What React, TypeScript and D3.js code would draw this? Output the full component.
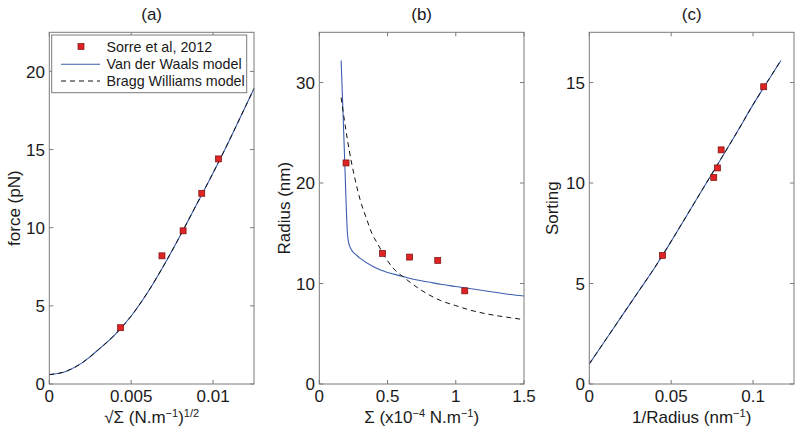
import React from "react";
import * as d3 from "d3";

// ---------- Data ----------
// Panel (a): force vs sqrt(Sigma)
const aPointsX = [0.00435, 0.00688, 0.00817, 0.00931, 0.01033];
const aPointsY = [3.6, 8.2, 9.8, 12.2, 14.4];
const aCurveX = [0, 0.001, 0.002, 0.0025, 0.003, 0.004, 0.005, 0.006, 0.007, 0.008, 0.009, 0.01, 0.011, 0.012, 0.0125];
const aCurveY = [0.6, 0.8, 1.35, 1.75, 2.2, 3.15, 4.35, 5.85, 7.6, 9.5, 11.5, 13.5, 15.6, 17.8, 18.9];

// Panel (b): Radius vs Sigma
const bPointsX = [0.196, 0.463, 0.662, 0.868, 1.066];
const bPointsY = [22.0, 13.0, 12.63, 12.3, 9.27];
const bVdwX = [0.16, 0.17, 0.18, 0.19, 0.198, 0.203, 0.207, 0.213, 0.222, 0.238, 0.27, 0.3, 0.4, 0.5, 0.6, 0.7, 0.8, 0.9, 1.0, 1.1, 1.2, 1.3, 1.4, 1.5];
const bVdwY = [32.2, 28.4, 24.6, 20.7, 17.4, 15.7, 14.85, 14.2, 13.75, 13.3, 12.85, 12.5, 11.65, 11.1, 10.75, 10.4, 10.15, 9.9, 9.7, 9.5, 9.3, 9.1, 8.9, 8.75];
const bBwX = [0.16, 0.19, 0.22, 0.26, 0.3, 0.35, 0.385, 0.43, 0.47, 0.54, 0.63, 0.74, 0.89, 1.0, 1.08, 1.2, 1.3, 1.4, 1.5];
const bBwY = [28.5, 25.7, 23.2, 20.5, 18.3, 16.3, 15.0, 13.9, 12.9, 11.55, 10.5, 9.4, 8.3, 7.8, 7.45, 7.05, 6.8, 6.6, 6.4];

// Panel (c): Sorting vs 1/Radius
const cPointsX = [0.0447, 0.076, 0.0783, 0.0805, 0.1065];
const cPointsY = [6.4, 10.28, 10.75, 11.65, 14.79];
const cCurveX = [0, 0.01, 0.02, 0.03, 0.04, 0.05, 0.06, 0.07, 0.08, 0.09, 0.1, 0.11, 0.117];
const cCurveY = [1.0, 2.2, 3.4, 4.6, 5.8, 7.1, 8.45, 9.8, 11.15, 12.5, 13.9, 15.2, 16.1];

// Ticks
const aXTicks = [0, 0.005, 0.01];
const aXTickLabels = ["0", "0.005", "0.01"];
const aYTicks = [0, 5, 10, 15, 20];
const bXTicks = [0, 0.5, 1, 1.5];
const bXTickLabels = ["0", "0.5", "1", "1.5"];
const bYTicks = [0, 10, 20, 30];
const cXTicks = [0, 0.05, 0.1];
const cXTickLabels = ["0", "0.05", "0.1"];
const cYTicks = [0, 5, 10, 15];

const legendLabels = ["Sorre et al, 2012", "Van der Waals model", "Bragg Williams model"];

// ---------- Styles ----------
const FONT = "'Liberation Sans', Arial, Helvetica, sans-serif";
const BLUE = "#3d5eae";
const RED = "#dd2323";
const AXIS = "#7a7a7a";
const TEXT = "#1a1a1a";
const TOP = 32.3;
const BOTTOM = 384;
const PW = 204.7;
const FS = 17;
const SUP = 11;
const SUPDY = 6;

type Series = { x: number[]; y: number[] };

function zip(s: Series) {
  return s.x.map((x, i) => [x, s.y[i]] as [number, number]);
}

function Panel(props: {
  left: number;
  xDomain: [number, number];
  yDomain: [number, number];
  xTicks: number[];
  xTickLabels: string[];
  yTicks: number[];
  title: string;
  xLabel: React.ReactNode;
  yLabel: string;
  yLabelX: number;
  solid: Series;
  dashed: Series;
  points: Series;
  legend?: boolean;
}) {
  const { left } = props;
  const x = d3.scaleLinear().domain(props.xDomain).range([left, left + PW]);
  const y = d3.scaleLinear().domain(props.yDomain).range([BOTTOM, TOP]);
  const line = d3
    .line<[number, number]>()
    .x((d) => x(d[0]))
    .y((d) => y(d[1]))
    .curve(d3.curveMonotoneX);
  const tl = 4;
  const cx = left + PW / 2;
  const cy = (TOP + BOTTOM) / 2;
  const ms = 6;
  return (
    <g>
      <text x={cx} y={19.5} textAnchor="middle" fontSize={FS} fontFamily={FONT} fill={TEXT}>
        {props.title}
      </text>
      {/* ticks */}
      {props.xTicks.map((t, i) => (
        <g key={"xt" + i}>
          <line x1={x(t)} x2={x(t)} y1={BOTTOM} y2={BOTTOM - tl} stroke={AXIS} />
          <line x1={x(t)} x2={x(t)} y1={TOP} y2={TOP + tl} stroke={AXIS} />
          <text x={x(t)} y={401.5} textAnchor="middle" fontSize={FS} fontFamily={FONT} fill={TEXT}>
            {props.xTickLabels[i]}
          </text>
        </g>
      ))}
      {props.yTicks.map((t, i) => (
        <g key={"yt" + i}>
          <line x1={left} x2={left + tl} y1={y(t)} y2={y(t)} stroke={AXIS} />
          <line x1={left + PW} x2={left + PW - tl} y1={y(t)} y2={y(t)} stroke={AXIS} />
          <text x={left - 4.3} y={y(t) + 6.2} textAnchor="end" fontSize={FS} fontFamily={FONT} fill={TEXT}>
            {String(t)}
          </text>
        </g>
      ))}
      {/* curves */}
      <path d={line(zip(props.solid)) || ""} fill="none" stroke={BLUE} strokeWidth={1.1} />
      <path d={line(zip(props.dashed)) || ""} fill="none" stroke="#111" strokeWidth={1} strokeDasharray="5,4" />
      {/* points */}
      {zip(props.points).map((p, i) => (
        <rect
          key={"p" + i}
          x={x(p[0]) - ms / 2}
          y={y(p[1]) - ms / 2}
          width={ms}
          height={ms}
          fill={RED}
          stroke="#7a1010"
          strokeWidth={0.7}
        />
      ))}
      {/* box */}
      <rect x={left} y={TOP} width={PW} height={BOTTOM - TOP} fill="none" stroke={AXIS} strokeWidth={1} />
      {/* labels */}
      <text x={cx} y={422.5} textAnchor="middle" fontSize={FS} fontFamily={FONT} fill={TEXT}>
        {props.xLabel}
      </text>
      <text
        transform={`translate(${props.yLabelX},${cy}) rotate(-90)`}
        textAnchor="middle"
        fontSize={FS}
        fontFamily={FONT}
        fill={TEXT}
      >
        {props.yLabel}
      </text>
      {props.legend && (
        <g>
          <rect x={51.7} y={35} width={195} height={57.7} fill="white" stroke={AXIS} strokeWidth={1} />
          <rect x={81 - ms / 2} y={46.5 - ms / 2} width={ms} height={ms} fill={RED} stroke="#7a1010" strokeWidth={0.7} />
          <line x1={61} x2={100} y1={64.3} y2={64.3} stroke={BLUE} strokeWidth={1.1} />
          <line x1={61} x2={100} y1={81} y2={81} stroke="#111" strokeWidth={1} strokeDasharray="5,4" />
          {legendLabels.map((l, i) => (
            <text key={l} x={106.5} y={51.8 + i * 17} fontSize={14.3} fontFamily={FONT} fill={TEXT}>
              {l}
            </text>
          ))}
        </g>
      )}
    </g>
  );
}

export default function App() {
  return (
    <svg
      width={800}
      height={436}
      style={{ position: "absolute", left: 0, top: 0, background: "white" }}
    >
      <rect x={0} y={0} width={800} height={436} fill="white" />
      <Panel
        left={49.3}
        xDomain={[0, 0.0125]}
        yDomain={[0, 22.5]}
        xTicks={aXTicks}
        xTickLabels={aXTickLabels}
        yTicks={aYTicks}
        title="(a)"
        xLabel={
          <>
            {"√Σ (N.m"}
            <tspan dy={-SUPDY} fontSize={SUP}>−1</tspan>
            <tspan dy={SUPDY}>)</tspan>
            <tspan dy={-SUPDY} fontSize={SUP}>1/2</tspan>
          </>
        }
        yLabel="force (pN)"
        yLabelX={20}
        solid={{ x: aCurveX, y: aCurveY }}
        dashed={{ x: aCurveX, y: aCurveY }}
        points={{ x: aPointsX, y: aPointsY }}
        legend
      />
      <Panel
        left={319.3}
        xDomain={[0, 1.5]}
        yDomain={[0, 35]}
        xTicks={bXTicks}
        xTickLabels={bXTickLabels}
        yTicks={bYTicks}
        title="(b)"
        xLabel={
          <>
            {"Σ (x10"}
            <tspan dy={-SUPDY} fontSize={SUP}>−4</tspan>
            <tspan dy={SUPDY}>{" N.m"}</tspan>
            <tspan dy={-SUPDY} fontSize={SUP}>−1</tspan>
            <tspan dy={SUPDY}>)</tspan>
          </>
        }
        yLabel="Radius (nm)"
        yLabelX={290}
        solid={{ x: bVdwX, y: bVdwY }}
        dashed={{ x: bBwX, y: bBwY }}
        points={{ x: bPointsX, y: bPointsY }}
      />
      <Panel
        left={589.3}
        xDomain={[0, 0.125]}
        yDomain={[0, 17.5]}
        xTicks={cXTicks}
        xTickLabels={cXTickLabels}
        yTicks={cYTicks}
        title="(c)"
        xLabel={
          <>
            {"1/Radius (nm"}
            <tspan dy={-SUPDY} fontSize={SUP}>−1</tspan>
            <tspan dy={SUPDY}>)</tspan>
          </>
        }
        yLabel="Sorting"
        yLabelX={558}
        solid={{ x: cCurveX, y: cCurveY }}
        dashed={{ x: cCurveX, y: cCurveY }}
        points={{ x: cPointsX, y: cPointsY }}
      />
    </svg>
  );
}
